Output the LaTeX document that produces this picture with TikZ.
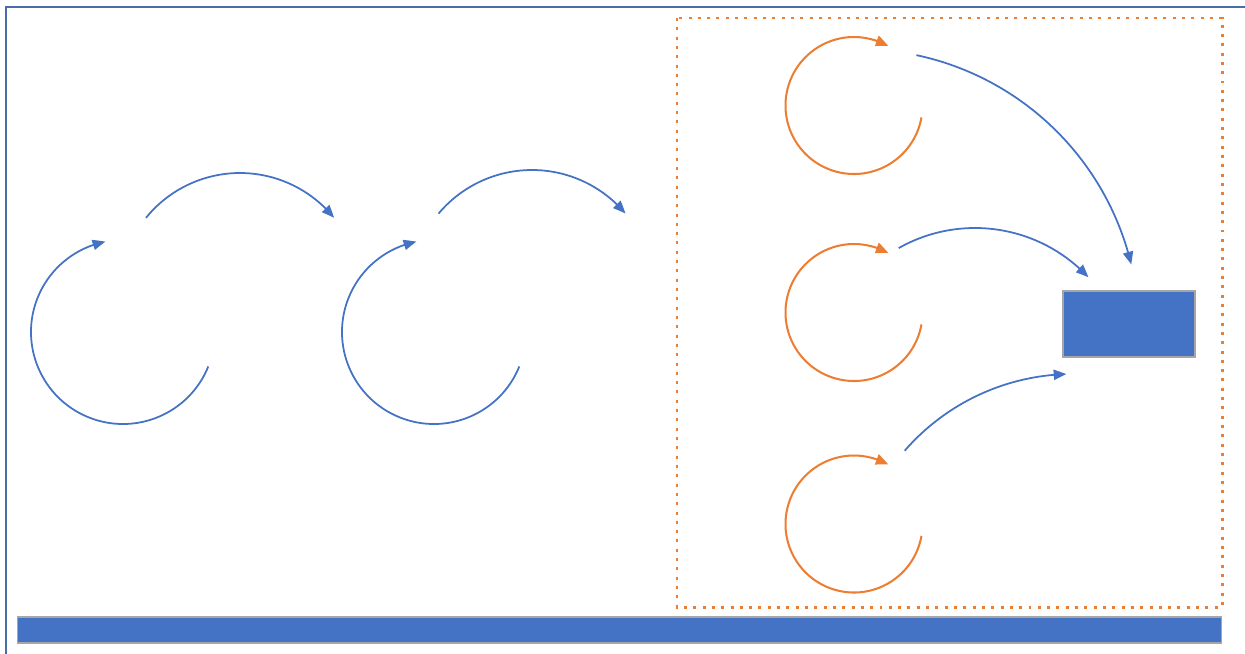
\documentclass[tikz,border=0pt]{standalone}
\usetikzlibrary{arrows.meta,bending}
\definecolor{mblue}{HTML}{4472C4}
\definecolor{morange}{HTML}{ED7D31}
\definecolor{framecol}{HTML}{4A6CAB}
\definecolor{edgegray}{HTML}{A6A6A6}
\begin{document}
\begin{tikzpicture}[x=0.02cm,y=0.02cm,
  bluearc/.style={draw=mblue,line width=1pt,-{Triangle[length=7.2pt,width=5.8pt,bend]}},
  orangearc/.style={draw=morange,line width=1.15pt,-{Triangle[length=7.2pt,width=6pt,bend]}},
  fillbox/.style={rectangle,fill=mblue,draw=edgegray,line width=0.6pt,inner sep=0pt,outer sep=0pt},
  dotbox/.style={draw=morange,line width=1.7pt,dash pattern=on 1.7pt off 3.6pt},
  framebox/.style={draw=framecol,line width=1.3pt}]
\useasboundingbox (0,0) rectangle (1245,-653);
\clip (0,0) rectangle (1245,-653);
% outer frame (only top and left edges visible)
\draw[framebox] (6,-7) rectangle (1300,-700);
% bottom bar
\node[fillbox,minimum width=24.1cm,minimum height=0.52cm] (bar) at (619.5,-630) {};
% dotted group box
\draw[dotbox] (677,-18) rectangle (1222,-607);
% target box
\node[fillbox,minimum width=2.64cm,minimum height=1.32cm] (target) at (1129,-324) {};
% centres
\coordinate (b1) at (123,-332);
\coordinate (b2) at (434,-332);
\coordinate (a1) at (240,-294);
\coordinate (a2) at (532,-292);
\coordinate (o1) at (854,-105.5);
\coordinate (o2) at (854,-312.5);
\coordinate (o3) at (854,-524);
\coordinate (rA) at (858,-330);
\coordinate (rB) at (975,-383);
\coordinate (rC) at (1073,-597);
% blue loops
\draw[bluearc] ([shift={(-22:92)}]b1) arc[start angle=-22,end angle=-259,radius=92];
\draw[bluearc] ([shift={(-22:92)}]b2) arc[start angle=-22,end angle=-259,radius=92];
% blue connecting arcs
\draw[bluearc] ([shift={(141:121)}]a1) arc[start angle=141,end angle=39,radius=121];
\draw[bluearc] ([shift={(140:122)}]a2) arc[start angle=140,end angle=40,radius=122];
% orange loops
\draw[orangearc] ([shift={(-10:68.5)}]o1) arc[start angle=-10,end angle=-300,radius=68.5];
\draw[orangearc] ([shift={(-10:68.5)}]o2) arc[start angle=-10,end angle=-300,radius=68.5];
\draw[orangearc] ([shift={(-10:68.5)}]o3) arc[start angle=-10,end angle=-300,radius=68.5];
% arrows towards target
\draw[bluearc] ([shift={(78:281)}]rA) arc[start angle=78,end angle=13.5,radius=281];
\draw[bluearc] ([shift={(119.5:155)}]rB) arc[start angle=119.5,end angle=43,radius=155];
\draw[bluearc] ([shift={(139:223)}]rC) arc[start angle=139,end angle=91.7,radius=223];
\end{tikzpicture}
\end{document}
